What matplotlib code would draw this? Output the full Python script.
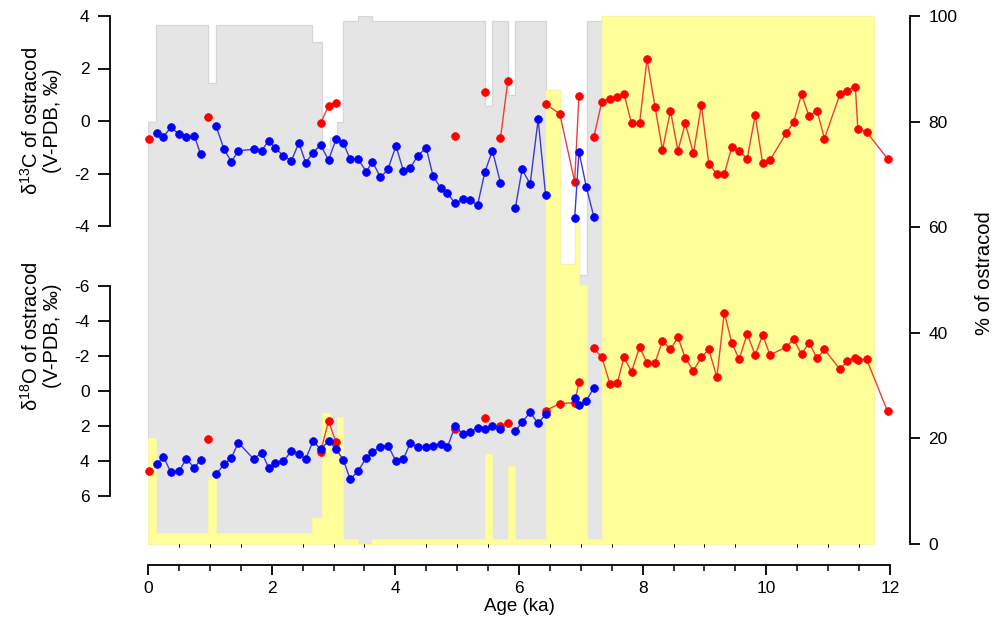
import numpy as np
import matplotlib
matplotlib.use("Agg")
import matplotlib.pyplot as plt

plt.rcParams['font.family'] = ['Liberation Sans', 'DejaVu Sans']
plt.rcParams['mathtext.fontset'] = 'custom'
plt.rcParams['mathtext.rm'] = 'Liberation Sans'
plt.rcParams['mathtext.it'] = 'Liberation Sans'
plt.rcParams['axes.unicode_minus'] = False

# ---- percentage of ostracod (step bars) ----
step_edges = [0, 0.13, 0.97, 1.10, 2.66, 2.81, 2.94, 3.05, 3.16, 3.40, 3.63,
              5.45, 5.57, 5.82, 5.94, 6.44, 6.66, 6.90, 6.97, 7.10, 7.34, 11.74]
yellow_pct = [20, 2, 12.7, 2, 5, 24.8, 17, 24, 1, 0, 1,
              17, 1, 14.8, 1, 86, 53, 61, 49, 1, 100]
grey_pct = [60, 96.3, 74.6, 96.3, 90, 50, 60, 56, 98, 100, 98,
            66, 98, 70.2, 98, 0, 0, 0, 2, 98, 0]

# ---- blue series (NaN separates segments) ----
blue_age = [0.14, 0.25, 0.37, 0.50, 0.62, 0.75, 0.85, np.nan,
            1.10, 1.23, 1.35, 1.46, 1.71, 1.84, 1.95, 2.06, 2.19, 2.32, 2.44, 2.55,
            2.67, 2.79, 2.92, 3.04, 3.16, 3.27, 3.40, 3.53, 3.63, 3.76, 3.88, 4.01,
            4.13, 4.24, 4.36, 4.50, 4.61, 4.74, 4.84, 4.97, 5.09, 5.21, 5.33, 5.45,
            5.57, 5.70, np.nan,
            5.94, 6.05, 6.18, 6.31, 6.43, np.nan,
            6.90, 6.97, 7.09, 7.21]
blue_d13c = [-0.44, -0.60, -0.24, -0.50, -0.62, -0.57, -1.26, np.nan,
             -0.19, -1.08, -1.55, -1.13, -1.08, -1.13, -0.75, -1.03, -1.33, -1.51, -0.83, -1.59,
             -1.21, -0.91, -1.49, -0.70, -0.84, -1.46, -1.46, -1.93, -1.55, -2.15, -1.84, -0.95,
             -1.89, -1.80, -1.33, -1.02, -2.10, -2.57, -2.75, -3.14, -2.98, -3.01, -3.20, -1.93,
             -1.13, -2.35, np.nan,
             -3.33, -1.84, -2.40, 0.06, -2.82, np.nan,
             -3.71, -1.17, -2.53, -3.64]
blue_d18o = [4.19, 3.75, 4.65, 4.57, 3.89, 4.38, 3.94, np.nan,
             4.76, 4.19, 3.81, 2.95, 3.89, 3.52, 4.38, 4.13, 4.00, 3.43, 3.60, 3.89,
             2.86, 3.33, 2.86, 3.31, 3.94, 5.05, 4.57, 3.81, 3.50, 3.18, 3.12, 4.00,
             3.89, 2.99, 3.18, 3.18, 3.12, 3.05, 3.22, 1.98, 2.48, 2.36, 2.10, 2.17,
             1.98, 2.17, np.nan,
             2.29, 1.79, 1.22, 1.85, 1.33, np.nan,
             0.38, 0.80, 0.55, -0.19]

# ---- red series (NaN separates segments) ----
red_age = [0.02, np.nan, 0.97, np.nan, 2.79, 2.92, 3.04, np.nan, 4.97, np.nan,
           5.45, np.nan, 5.70, 5.82, np.nan, 6.43, 6.66, 6.90, 6.97, np.nan,
           7.21, 7.34, 7.47, 7.59, 7.70, 7.82, 7.95, 8.07, 8.20, 8.32, 8.45, 8.57,
           8.69, 8.82, 8.95, 9.07, 9.20, 9.32, 9.44, 9.56, 9.69, 9.82, 9.94, 10.06,
           10.32, 10.44, 10.57, 10.69, 10.82, 10.94, 11.19, 11.31, 11.44, 11.48,
           11.62, 11.96]
red_d13c = [-0.70, np.nan, 0.14, np.nan, -0.09, 0.57, 0.70, np.nan, -0.57, np.nan,
            1.12, np.nan, -0.66, 1.54, np.nan, 0.65, 0.27, -2.31, 0.97, np.nan,
            -0.61, 0.74, 0.85, 0.90, 1.03, -0.09, -0.09, 2.36, 0.55, -1.10, 0.39, -1.13,
            -0.09, -1.23, 0.60, -1.64, -2.02, -2.02, -1.00, -1.13, -1.44, 0.22, -1.61, -1.49,
            -0.47, -0.05, 1.02, 0.18, 0.39, -0.67, 1.02, 1.16, 1.31, -0.32,
            -0.41, -1.44]
red_d18o = [4.57, np.nan, 2.74, np.nan, 3.50, 1.71, 2.93, np.nan, 2.17, np.nan,
            1.56, np.nan, 2.00, 1.85, np.nan, 1.12, 0.72, 0.67, -0.49, np.nan,
            -2.44, -1.92, -0.42, -0.48, -1.92, -1.10, -2.50, -1.62, -1.62, -2.86, -2.38, -3.07,
            -1.87, -1.16, -1.92, -2.38, -0.78, -4.48, -2.76, -1.81, -3.26, -2.06, -3.20, -2.06,
            -2.51, -2.95, -2.11, -2.76, -1.87, -2.38, -1.24, -1.71, -1.90, -1.77,
            -1.83, 1.16]

d13c_ticks = [-4, -2, 0, 2, 4]
d18o_ticks = [-6, -4, -2, 0, 2, 4, 6]
pct_ticks = [0, 20, 40, 60, 80, 100]
age_major = [0, 2, 4, 6, 8, 10, 12]

W, H = 992, 628
fig = plt.figure(figsize=(W / 100, H / 100), dpi=100)
L, R, T, B = 148, 890, 16, 544
rect = [L / W, 1 - B / H, (R - L) / W, (B - T) / H]
px2pt = 0.72

# percentage axes (background)
ax = fig.add_axes(rect)
ax.set_xlim(0, 12)
ax.set_ylim(0, 100)
edges = np.array(step_edges)
yel = np.array(yellow_pct + [yellow_pct[-1]])
tot = np.array(yellow_pct) + np.array(grey_pct)
tot = np.append(tot, tot[-1])
ax.fill_between(edges, 0, tot, step='post', facecolor='#e5e5e5',
                edgecolor='#d6d6d6', linewidth=0.9, zorder=1)
ax.fill_between(edges, 0, yel, step='post', facecolor='#ffff99',
                edgecolor='#fbfb9a', linewidth=0.5, zorder=2)
for s in ['left', 'top']:
    ax.spines[s].set_visible(False)
ax.spines['right'].set_position(('outward', 20 * px2pt))
ax.spines['bottom'].set_position(('outward', 21 * px2pt))
ax.spines['right'].set_linewidth(1.3)
ax.spines['bottom'].set_linewidth(1.3)
ax.yaxis.tick_right()
ax.yaxis.set_label_position('right')
ax.set_yticks(pct_ticks)
ax.tick_params(axis='y', direction='out', length=10 * px2pt, width=1.3,
               labelsize=12.5, pad=6)
ax.set_xticks(age_major)
ax.set_xticks(np.arange(0, 12.01, 0.5), minor=True)
ax.tick_params(axis='x', which='major', direction='out', length=10 * px2pt,
               width=1.3, labelsize=12.5, pad=4)
ax.tick_params(axis='x', which='minor', direction='out', length=6 * px2pt,
               width=1.1)
ax.set_xlabel('Age (ka)', fontsize=13.5, labelpad=2)

# delta13C axes
ax13 = fig.add_axes(rect, sharex=ax)
ax13.patch.set_visible(False)
top13 = 4.0
bot13 = 4.0 - (B - T) / 26.25
ax13.set_ylim(bot13, top13)
for s in ['right', 'top', 'bottom']:
    ax13.spines[s].set_visible(False)
ax13.spines['left'].set_position(('outward', 38 * px2pt))
ax13.spines['left'].set_bounds(-4, 4)
ax13.spines['left'].set_linewidth(1.3)
ax13.set_yticks(d13c_ticks)
ax13.set_yticklabels([str(t) for t in d13c_ticks])
ax13.tick_params(axis='y', direction='out', length=12 * px2pt, width=1.3,
                 labelsize=12.5, pad=6)
ax13.tick_params(axis='x', bottom=False, labelbottom=False)

# delta18O axes (inverted)
ax18 = fig.add_axes(rect, sharex=ax)
ax18.patch.set_visible(False)
top18 = -6 - (286 - T) / 17.5
bot18 = 6 + (B - 496) / 17.5
ax18.set_ylim(bot18, top18)
for s in ['right', 'top', 'bottom']:
    ax18.spines[s].set_visible(False)
ax18.spines['left'].set_position(('outward', 38 * px2pt))
ax18.spines['left'].set_bounds(-6, 6)
ax18.spines['left'].set_linewidth(1.3)
ax18.set_yticks(d18o_ticks)
ax18.set_yticklabels([str(t) for t in d18o_ticks])
ax18.tick_params(axis='y', direction='out', length=12 * px2pt, width=1.3,
                 labelsize=12.5, pad=6)
ax18.tick_params(axis='x', bottom=False, labelbottom=False)

red_kw = dict(color='#e8403a', lw=1.0, marker='o', markersize=5.6,
              markerfacecolor='#ff0000', markeredgecolor='#ff0000',
              markeredgewidth=0.5, clip_on=False)
blue_kw = dict(color='#3a3ad0', lw=1.0, marker='o', markersize=5.6,
               markerfacecolor='#0000ff', markeredgecolor='#0000ff',
               markeredgewidth=0.5, clip_on=False)
ax13.plot(red_age, red_d13c, zorder=3, **red_kw)
ax13.plot(blue_age, blue_d13c, zorder=4, **blue_kw)
ax18.plot(red_age, red_d18o, zorder=3, **red_kw)
ax18.plot(blue_age, blue_d18o, zorder=4, **blue_kw)

fig.text(41 / W, 1 - 121 / H, 'δ$^{13}$C of ostracod\n(V-PDB, ‰)',
         rotation=90, ha='center', va='center', multialignment='center',
         fontsize=14.5, linespacing=1.1)
fig.text(41 / W, 1 - 336 / H, 'δ$^{18}$O of ostracod\n(V-PDB, ‰)',
         rotation=90, ha='center', va='center', multialignment='center',
         fontsize=14.5, linespacing=1.1)
fig.text(984 / W, 1 - 273 / H, '% of ostracod', rotation=90,
         ha='center', va='center', fontsize=14.5)

fig.savefig('out.png', dpi=100)
